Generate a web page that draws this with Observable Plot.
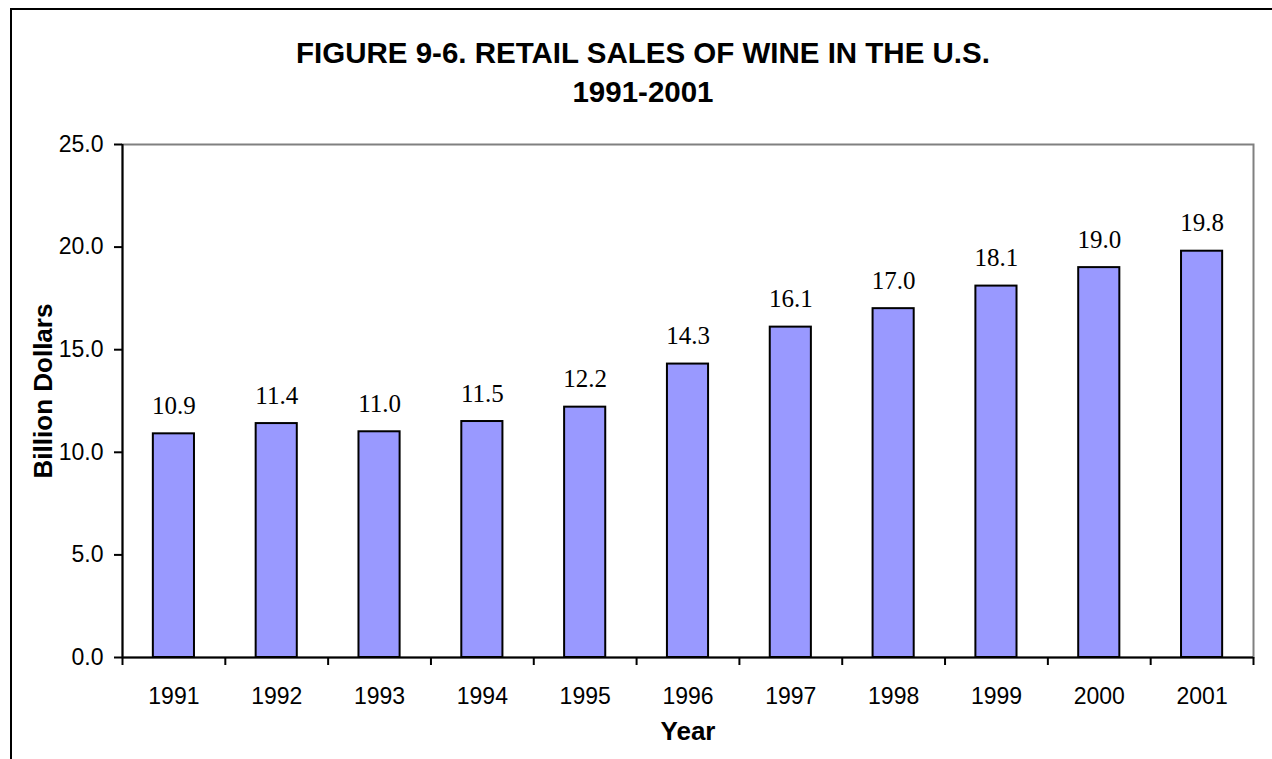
<!DOCTYPE html>
<html>
<head>
<meta charset="utf-8">
<script src="https://cdn.jsdelivr.net/npm/d3@7"></script>
<script src="https://cdn.jsdelivr.net/npm/@observablehq/plot@0.6"></script>
<style>
  html, body { margin: 0; padding: 0; background: #fff; }
  #wrap { position: relative; width: 1272px; height: 759px; overflow: hidden; }
  #border { position: absolute; left: 10px; top: 8px; width: 1400px; height: 900px;
            border-left: 2px solid #000; border-top: 2px solid #000; }
  .title { position: absolute; left: 0; width: 1286px; text-align: center;
           font-family: "Liberation Sans", Arial, sans-serif; font-weight: bold; font-size: 29.5px;
           color: #000; line-height: 39px; top: 33px; }
  #chart { position: absolute; left: 0; top: 0; }
</style>
</head>
<body>
<div id="wrap">
  <div id="border"></div>
  <div class="title">FIGURE 9-6. RETAIL SALES OF WINE IN THE U.S.<br>1991-2001</div>
  <div id="chart"></div>
</div>
<script>
const years = [1991, 1992, 1993, 1994, 1995, 1996, 1997, 1998, 1999, 2000, 2001];
const sales = [10.9, 11.4, 11.0, 11.5, 12.2, 14.3, 16.1, 17.0, 18.1, 19.0, 19.8];
const yTicks = [0, 5, 10, 15, 20, 25];
const boundaries = [...years.map(y => y - 0.5), years[years.length - 1] + 0.5];
const yAxisTitle = "Billion Dollars";
const xAxisTitle = "Year";

const data = years.map((y, i) => ({year: y, value: sales[i]}));
const sans = "Liberation Sans, Arial, sans-serif";
const serif = "Liberation Serif, Times New Roman, serif";

const chart = Plot.plot({
  width: 1272,
  height: 759,
  marginLeft: 122,
  marginRight: 19,
  marginTop: 144,
  marginBottom: 102,
  style: {fontFamily: sans, fontSize: "23px", color: "#000", background: "transparent"},
  x: {domain: [years[0] - 0.5, years[years.length - 1] + 0.5]},
  y: {domain: [0, 25]},
  marks: [
    Plot.frame({stroke: "#808080", strokeWidth: 2}),
    Plot.rectY(data, {
      x1: d => d.year - 0.2,
      x2: d => d.year + 0.2,
      y1: 0,
      y2: "value",
      fill: "#9999FF",
      stroke: "#000",
      strokeWidth: 2
    }),
    Plot.text(data, {
      x: "year", y: "value", text: d => d.value.toFixed(1),
      lineAnchor: "bottom", dy: -20,
      fontFamily: serif, fontSize: 25, fill: "#000"
    }),
    Plot.ruleX([years[0] - 0.5], {stroke: "#000", strokeWidth: 2}),
    Plot.ruleY([0], {stroke: "#000", strokeWidth: 2}),
    Plot.axisY({
      ticks: yTicks, tickFormat: d => d.toFixed(1), tickSize: 8, tickPadding: 11,
      strokeWidth: 2, label: null, fontSize: 23
    }),
    Plot.axisX({
      ticks: boundaries, tickFormat: () => "", tickSize: 8, strokeWidth: 2, label: null
    }),
    Plot.axisX({
      ticks: years, tickFormat: d => String(d), tickSize: 0, tickPadding: 30, label: null, fontSize: 23
    }),
    Plot.text([yAxisTitle], {
      frameAnchor: "left", textAnchor: "middle", lineAnchor: "middle",
      dx: -79, dy: -10, rotate: -90,
      fontWeight: "bold", fontSize: 26, fontFamily: sans, fill: "#000"
    }),
    Plot.text([xAxisTitle], {
      frameAnchor: "bottom", textAnchor: "middle", lineAnchor: "middle", dy: 74,
      fontWeight: "bold", fontSize: 26, fontFamily: sans, fill: "#000"
    })
  ]
});
document.getElementById("chart").appendChild(chart);
</script>
</body>
</html>
